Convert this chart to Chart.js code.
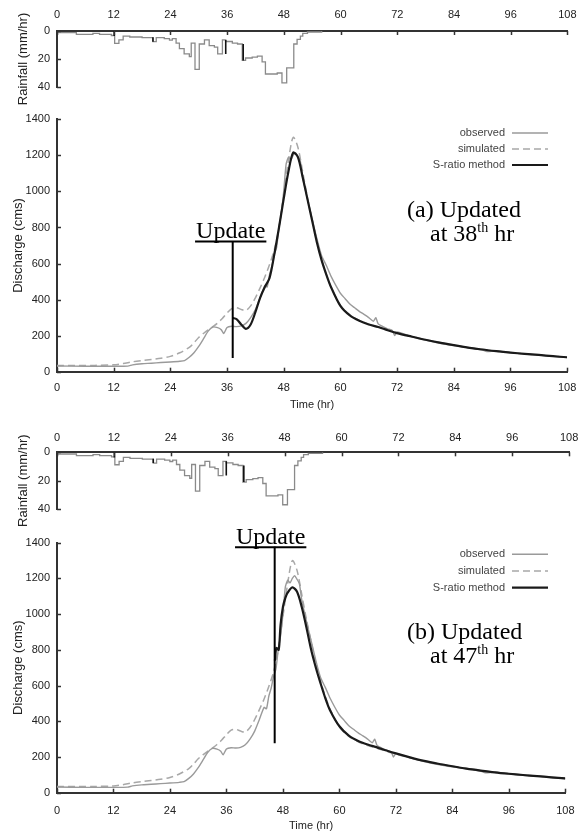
<!DOCTYPE html>
<html><head><meta charset="utf-8">
<script src="https://cdn.jsdelivr.net/npm/chart.js@4.4.0/dist/chart.umd.min.js"></script>
<style>
html,body{margin:0;padding:0;background:#fff;}
#wrap{position:relative;width:586px;height:834px;overflow:hidden;background:#fff;}
canvas{position:absolute;left:0;}
</style></head><body>
<div id="wrap">
<canvas id="rainA" width="586" height="105" style="top:0px"></canvas>
<canvas id="qA" width="586" height="310" style="top:105px"></canvas>
<canvas id="rainB" width="586" height="125" style="top:410px"></canvas>
<canvas id="qB" width="586" height="322" style="top:512px"></canvas>
</div>
<script>
// ---- data ----
const xTicks = [0, 12, 24, 36, 48, 60, 72, 84, 96, 108];
const qTicks = [0, 200, 400, 600, 800, 1000, 1200, 1400];
const rainTicks = [0, 20, 40];

const rainTime = [0, 4.1, 7.6, 9, 11.5, 12.2, 13.1, 14, 15.4, 18, 20.3, 21, 22.7, 23.8, 24.4, 25.2, 25.9, 26.9, 28, 28.4, 29.2, 30.1, 31.2, 32.2, 33.3, 34, 35, 35.7, 37.1, 38.2, 39.2, 39.9, 41.3, 42.4, 43.4, 44.1, 46.6, 47.6, 48.6, 50.1, 50.8, 51.5, 52, 53, 56];
const rainMm   = [1.2, 2.4, 1.7, 2.4, 3.2, 8.8, 6.4, 3.6, 4.3, 4.8, 7.6, 4.8, 5.5, 6.5, 5.5, 8.6, 12.6, 16.4, 18.3, 8.6, 27.4, 9.3, 6.4, 10.5, 11.5, 16.4, 6.4, 7.5, 8.6, 9.3, 21, 19.3, 18.6, 17.9, 22, 30.7, 30, 37, 26.4, 9.3, 6, 3.6, 1.7, 0.7, 0];
const spikeTime = [12.1, 20.3, 35.7, 39.4];
const spikeLow  = [0, 4.5, 6.4, 9.3];
const spikeHigh = [3.6, 7.6, 16.4, 21];

const obsTime = [0, 6, 12, 15, 16, 18, 20, 22, 24, 26,
  27, 28, 29, 30, 31, 32, 33, 34, 34.8, 35.3,
  36, 37, 38, 39, 40, 41, 42, 43, 44, 44.5,
  45, 45.5, 46, 46.5, 47, 47.5, 48, 48.5, 49, 49.5,
  50, 50.5, 51, 51.5, 52, 53, 54, 55, 56, 57,
  58, 59, 60, 61, 62, 63, 64, 65, 66, 67,
  67.5, 68, 69, 70, 71, 71.5, 72, 75, 78, 81,
  84, 87, 90, 91, 93, 96, 99, 102, 105, 108];
const obsQ = [32, 30, 30, 31, 38, 44, 47, 51, 54, 58,
  62, 80, 105, 140, 182, 225, 248, 244, 232, 212,
  245, 252, 250, 254, 268, 300, 345, 410, 478, 470,
  540, 585, 650, 690, 800, 880, 1000, 1150, 1190, 1175,
  1200, 1215, 1195, 1170, 1080, 960, 850, 740, 645, 590,
  530, 480, 435, 405, 375, 355, 335, 318, 300, 280,
  300, 265, 250, 238, 228, 200, 220, 195, 175, 158,
  145, 134, 121, 112, 115, 106, 98, 93, 85, 78];

const simTime = [0, 8, 12, 14, 16, 18, 20, 22, 24, 26,
  28, 29, 30, 31, 32, 33, 34, 35, 36, 37,
  38, 39, 40, 41, 42, 43, 44, 45, 46, 47,
  48, 49, 50, 51, 52, 53, 54, 55, 56, 57,
  58, 60, 62, 64, 66, 68, 70, 72, 75, 78,
  81, 84, 87, 90, 93, 96, 99, 102, 105, 108];
const simQ = [35, 35, 38, 45, 55, 62, 68, 75, 85, 105,
  135, 160, 190, 212, 232, 250, 270, 295, 325, 350,
  355, 345, 340, 365, 410, 465, 525, 595, 675, 800,
  985, 1170, 1300, 1245, 1110, 970, 845, 725, 625, 540,
  470, 368, 315, 285, 264, 249, 232, 216, 196, 178,
  162, 148, 135, 124, 114, 106, 99, 93, 86, 80];

const srATime = [37.2, 38, 39, 40, 41, 42, 43, 44, 45, 46,
  47, 48, 49, 50, 51, 52, 53, 54, 55, 56,
  57, 58, 60, 62, 64, 66, 68, 70, 72, 75,
  78, 81, 84, 87, 90, 93, 96, 99, 102, 105, 108];
const srAQ = [298, 292, 262, 238, 262, 330, 410, 470, 520, 650,
  800, 960, 1110, 1215, 1190, 1080, 960, 840, 720, 620,
  540, 470, 365, 312, 282, 262, 248, 230, 214, 195,
  177, 161, 147, 134, 123, 114, 106, 99, 93, 86, 80];

const srBTime = [46.3, 46.6, 47.1, 47.5, 48, 48.5, 49, 50, 51, 52,
  53, 54, 55, 56, 57, 58, 60, 62, 64, 66,
  68, 70, 72, 75, 78, 81, 84, 87, 90, 93,
  96, 99, 102, 105, 108];
const srBQ = [740, 810, 800, 940, 1040, 1090, 1120, 1150, 1125, 1040,
  925, 800, 700, 612, 530, 462, 372, 320, 290, 270,
  254, 236, 220, 198, 178, 162, 148, 135, 124, 114,
  106, 99, 93, 86, 80];

const seriesLabels = ['observed', 'simulated', 'S-ratio method'];

// ---- helpers ----
const pts = (t, v) => t.map((x, i) => ({x: x, y: v[i]}));
const spikePts = () => {
  const out = [];
  spikeTime.forEach((t, i) => { out.push({x: t, y: spikeLow[i]}, {x: t, y: spikeHigh[i]}, {x: t, y: null}); });
  return out;
};

Chart.defaults.font.family = '"Liberation Sans", Arial, sans-serif';
Chart.defaults.font.size = 11;
Chart.defaults.color = '#222';
Chart.defaults.animation = false;

const inTicks = {
  id: 'inTicks',
  afterDraw(chart) {
    const ctx = chart.ctx, a = chart.chartArea;
    const xs = chart.scales.x, ys = chart.scales.y;
    const top = xs.options.position === 'top';
    ctx.save();
    ctx.strokeStyle = '#333'; ctx.lineWidth = 1.5;
    xs.ticks.forEach(t => {
      const px = Math.round(xs.getPixelForValue(t.value)) + 0.5;
      const py = top ? a.top : a.bottom;
      ctx.beginPath(); ctx.moveTo(px, py); ctx.lineTo(px, top ? py + 4 : py - 4); ctx.stroke();
    });
    ys.ticks.forEach(t => {
      const py = Math.round(ys.getPixelForValue(t.value)) + 0.5;
      ctx.beginPath(); ctx.moveTo(a.left, py); ctx.lineTo(a.left + 4, py); ctx.stroke();
    });
    ctx.restore();
  }
};

const annot = {
  id: 'annot',
  afterDraw(chart, args, o) {
    if (!o || !o.caption) return;
    const ctx = chart.ctx, xs = chart.scales.x, ys = chart.scales.y;
    ctx.save();
    // legend
    ctx.font = '11px "Liberation Sans", Arial, sans-serif';
    ctx.textAlign = 'right'; ctx.textBaseline = 'middle'; ctx.fillStyle = '#444';
    chart.data.datasets.forEach((ds, i) => {
      const yy = o.legendTop + i * o.legendGap;
      ctx.fillText(ds.label, o.legendRight, yy);
      ctx.beginPath();
      ctx.strokeStyle = ds.borderColor; ctx.lineWidth = ds.borderWidth;
      ctx.setLineDash(ds.borderDash || []);
      ctx.moveTo(o.legendRight + 7, yy); ctx.lineTo(o.legendRight + 43, yy); ctx.stroke();
    });
    ctx.setLineDash([]);
    // update marker
    const ux = xs.getPixelForValue(o.updateHour);
    const y1 = ys.getPixelForValue(o.updateTopQ), y2 = ys.getPixelForValue(o.updateBottomQ);
    ctx.strokeStyle = '#000'; ctx.lineWidth = 2;
    ctx.beginPath(); ctx.moveTo(ux, y1); ctx.lineTo(ux, y2); ctx.stroke();
    ctx.font = '24px "Liberation Serif", "Times New Roman", serif';
    ctx.fillStyle = '#000'; ctx.textAlign = 'center'; ctx.textBaseline = 'alphabetic';
    const w = ctx.measureText('Update').width;
    const tx = ux + o.updateDx;
    ctx.fillText('Update', tx, y1 - 3);
    ctx.beginPath(); ctx.moveTo(tx - w / 2 - 1, y1 + 0.5); ctx.lineTo(tx + w / 2 + 1, y1 + 0.5); ctx.stroke();
    // caption
    ctx.textAlign = 'left';
    ctx.fillText(o.caption, o.capX, o.capY);
    let x = o.capX2;
    const part1 = 'at ' + o.hour;
    ctx.fillText(part1, x, o.capY + 24);
    x += ctx.measureText(part1).width;
    ctx.font = '14px "Liberation Serif", "Times New Roman", serif';
    ctx.fillText('th', x, o.capY + 24 - 9);
    x += ctx.measureText('th').width;
    ctx.font = '24px "Liberation Serif", "Times New Roman", serif';
    ctx.fillText(' hr', x, o.capY + 24);
    ctx.restore();
  }
};

function xScale(position, height, pad, withTitle, titlePadBottom) {
  return {
    type: 'linear', position: position, min: 0, max: 108,
    afterBuildTicks: s => { s.ticks = xTicks.map(v => ({value: v})); },
    afterFit: s => { s.height = height; },
    grid: {display: false, drawTicks: false},
    border: {display: true, color: '#333', width: 2},
    ticks: {padding: pad, color: '#222', maxRotation: 0, autoSkip: false, callback: v => String(v)},
    title: withTitle ? {display: true, text: 'Time (hr)', color: '#222', font: {size: 11}, padding: {top: 0, bottom: titlePadBottom}} : {display: false}
  };
}
function yScale(min, max, ticksArr, reverse, title, titlePad) {
  return {
    type: 'linear', min: min, max: max, reverse: reverse,
    afterBuildTicks: s => { s.ticks = ticksArr.map(v => ({value: v})); },
    afterFit: s => { s.width = 57; },
    grid: {display: false, drawTicks: false},
    border: {display: true, color: '#333', width: 2},
    ticks: {padding: 7, color: '#222', callback: v => String(v)},
    title: {display: true, text: title, color: '#222', font: {size: 13}, padding: {top: titlePad, bottom: 0}}
  };
}

function rainChart(id, h, areaTop, areaBottom, labelPad) {
  return new Chart(document.getElementById(id), {
    type: 'line',
    data: {datasets: [
      {label: 'rain spikes', data: spikePts(), borderColor: '#111', borderWidth: 1.6, pointRadius: 0, spanGaps: false, order: 0},
      {label: 'rainfall', data: pts(rainTime, rainMm), stepped: true, borderColor: '#8a8a8a', borderWidth: 1.3, pointRadius: 0, fill: false, order: 1}
    ]},
    options: {
      responsive: false, animation: false,
      layout: {padding: {left: 0, right: 16, top: 0, bottom: h - areaBottom}},
      plugins: {legend: {display: false}, tooltip: {enabled: false}},
      scales: {
        x: xScale('top', areaTop, labelPad, false, 0),
        y: yScale(0, 40, rainTicks, true, 'Rainfall (mm/hr)', 16)
      }
    },
    plugins: [inTicks]
  });
}

function qChart(id, h, areaTop, areaBottom, labelPad, titlePadBottom, srT, srQ, ann) {
  return new Chart(document.getElementById(id), {
    type: 'line',
    data: {datasets: [
      {label: seriesLabels[0], data: pts(obsTime, obsQ), borderColor: '#9a9a9a', borderWidth: 1.4, pointRadius: 0, tension: 0.2, order: 1},
      {label: seriesLabels[1], data: pts(simTime, simQ), borderColor: '#a8a8a8', borderWidth: 1.5, borderDash: [7, 4], pointRadius: 0, tension: 0.3, order: 2},
      {label: seriesLabels[2], data: pts(srT, srQ), borderColor: '#1a1a1a', borderWidth: 2.2, pointRadius: 0, tension: 0.3, order: 0}
    ]},
    options: {
      responsive: false, animation: false,
      layout: {padding: {left: 0, right: 16, top: areaTop, bottom: 0}},
      plugins: {legend: {display: false}, tooltip: {enabled: false}, annot: ann},
      scales: {
        x: xScale('bottom', h - areaBottom, labelPad, true, titlePadBottom),
        y: yScale(0, 1400, qTicks, false, 'Discharge (cms)', 10.5)
      }
    },
    plugins: [inTicks, annot]
  });
}

rainChart('rainA', 105, 31, 87, 9.4);
qChart('qA', 310, 14.3, 266.7, 9.7, 3.4, srATime, srAQ, {
  legendTop: 28, legendGap: 16, legendRight: 505,
  updateHour: 37.2, updateTopQ: 725, updateBottomQ: 76, updateDx: -2,
  caption: '(a) Updated', hour: '38', capX: 407, capY: 112, capX2: 430
});
rainChart('rainB', 125, 42.3, 99, 7.7);
qChart('qB', 322, 30.7, 280.7, 11.5, 1.4, srBTime, srBQ, {
  legendTop: 42.3, legendGap: 16.7, legendRight: 505,
  updateHour: 46.25, updateTopQ: 1378, updateBottomQ: 277, updateDx: -4,
  caption: '(b) Updated', hour: '47', capX: 407, capY: 127, capX2: 430
});
</script>
</body></html>
